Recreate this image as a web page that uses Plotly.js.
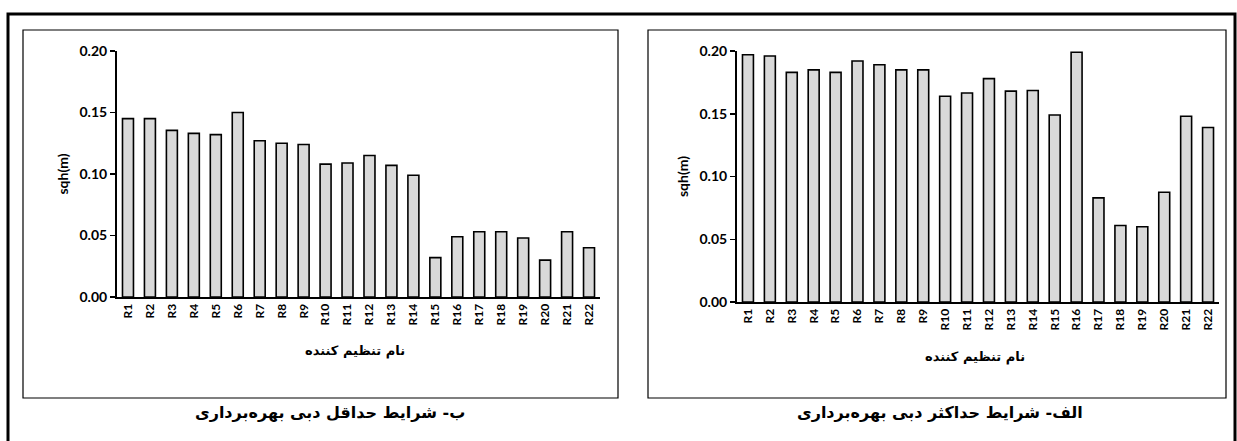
<!DOCTYPE html><html><head><meta charset="utf-8"><script src="https://cdn.plot.ly/plotly-3.0.1.min.js"></script>
<style>body{margin:0}#c{width:1237px;height:441px}</style></head><body><div id="c"></div><script>
const categories=["R1","R2","R3","R4","R5","R6","R7","R8","R9","R10","R11","R12","R13","R14","R15","R16","R17","R18","R19","R20","R21","R22"];
const minValues=[0.145,0.145,0.1355,0.133,0.132,0.150,0.127,0.125,0.124,0.108,0.109,0.115,0.107,0.099,0.032,0.049,0.053,0.053,0.048,0.030,0.053,0.040];
const maxValues=[0.197,0.196,0.183,0.185,0.183,0.192,0.189,0.185,0.185,0.164,0.1665,0.178,0.168,0.1685,0.149,0.199,0.083,0.061,0.060,0.0875,0.148,0.139];
const yTicks=[0,0.05,0.10,0.15,0.20];
const yTickText=["<b>0.00</b>","<b>0.05</b>","<b>0.10</b>","<b>0.15</b>","<b>0.20</b>"];
const yTitle="sqh(m)", xTitle="نام تنظیم کننده";
const capMin="ب- شرایط حداقل دبی بهره‌برداری", capMax="الف- شرایط حداکثر دبی بهره‌برداری";
const W=1237,H=441;
const bar=(y,xa,ya)=>({type:'bar',x:categories.map(c=>'<b>'+c+'</b>'),y:y,xaxis:xa,yaxis:ya,marker:{color:'#d9d9d9',line:{color:'#000',width:1.6}},hoverinfo:'none'});
const fnt={family:'Lato, Open Sans, sans-serif',size:14,color:'#000'};
const xa=d=>({domain:d,showline:true,linecolor:'#000',linewidth:2,ticks:'',tickangle:-90,tickfont:{family:'Lato',size:12,color:'#000'},showgrid:false,zeroline:false,fixedrange:true});
const ya=(d,anchor)=>({domain:d,anchor:anchor,range:[0,0.2],tickvals:yTicks,ticktext:yTickText,showline:true,linecolor:'#000',linewidth:2,ticks:'outside',ticklen:5,tickwidth:1.5,tickcolor:'#000',tickfont:fnt,showgrid:false,zeroline:false,fixedrange:true,
 title:{text:'<b>'+yTitle+'</b>',font:{family:'Lato',size:14,color:'#000'},standoff:8}});
const rect=(x0,y0,x1,y1,w)=>({type:'rect',xref:'paper',yref:'paper',x0:x0/W,x1:x1/W,y0:1-y1/H,y1:1-y0/H,line:{color:'#000',width:w}});
const ann=(x,y,t,s)=>({xref:'paper',yref:'paper',x:x/W,y:1-y/H,xanchor:'center',text:'<b>'+t+'</b>',showarrow:false,font:{family:'DejaVu Sans',size:s,color:'#000'}});
const layout={width:W,height:H,margin:{l:0,r:0,t:0,b:0},showlegend:false,bargap:0.5,plot_bgcolor:'#fff',paper_bgcolor:'#fff',
 xaxis:xa([117/W,600/W]),yaxis:ya([1-297/H,1-51/H],'x'),
 xaxis2:Object.assign(xa([737/W,1219/W]),{anchor:'y2'}),yaxis2:ya([1-302/H,1-51/H],'x2'),
 shapes:[rect(8,14,1235,450,3),rect(23,30,618,398,1.2),rect(648,30,1226,398,1.2)],
 annotations:[ann(355,361,xTitle,13),ann(975,367,xTitle,13),ann(330,424,capMin,16),ann(940,424,capMax,16)]};
layout.xaxis.anchor='y';
Plotly.newPlot('c',[bar(minValues,'x','y'),bar(maxValues,'x2','y2')],layout,{staticPlot:true});
</script></body></html>
